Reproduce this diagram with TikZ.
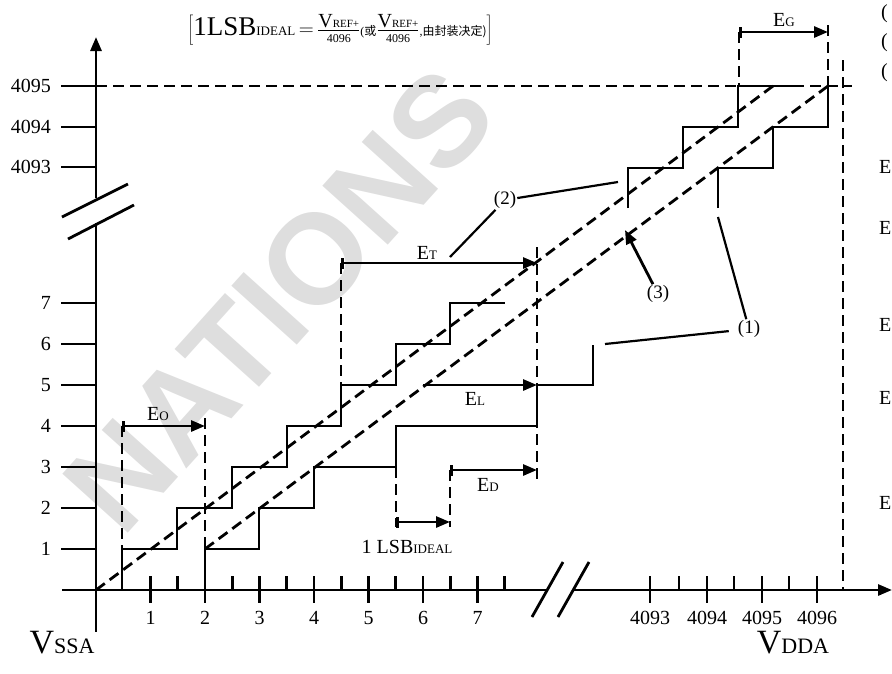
\documentclass[tikz,border=0pt]{standalone}
\usepackage{fontspec}
\setmainfont{Liberation Serif}
\newfontfamily\cjk{Noto Sans CJK SC}
\newfontfamily\wmfont{Liberation Sans}
\usetikzlibrary{arrows.meta}
\newcommand\capsub[1]{{\fontsize{13}{13}\selectfont #1}}

\begin{document}
\begin{tikzpicture}[x=1pt,y=-1pt,
  axis/.style={line width=2.8pt},
  stair/.style={line width=2.8pt},
  guide/.style={line width=2.8pt, dash pattern=on 11pt off 6pt},
  tick/.style={line width=2.6pt},
  err/.style={line width=2.8pt, -{Triangle[length=14pt,width=11pt]}},
  errbar/.style={line width=2.8pt, {Bar[width=11pt]}-{Triangle[length=14pt,width=11pt]}},
  leader/.style={line width=2.2pt},
  lbl/.style={font=\fontsize{20}{20}\selectfont, inner sep=1pt},
  wm/.style={text=black!13, font=\wmfont\bfseries\fontsize{128}{128}\selectfont}]
\useasboundingbox (0,0) rectangle (892,673);

% watermark
\node[wm, rotate=48] (wmark) at (279,300) {NATIONS};

% axes with breaks
\draw[axis, -{Triangle[length=14pt,width=11pt]}] (96,198) -- (96,37);
\draw[axis] (96,223) -- (96,632);
\draw[axis] (62,217) -- (128,184);
\draw[axis] (68,239) -- (134,205);
\draw[axis] (62,590) -- (547,590);
\draw[axis, -{Triangle[length=14pt,width=11pt]}] (572,590) -- (892,590);
\draw[axis] (532,617) -- (563,562);
\draw[axis] (558,617) -- (589,562);

% codes on the y axis
\foreach \k in {1,...,7} {
  \draw[tick] (61,{590-41*\k}) -- (96,{590-41*\k});
  \node[lbl, anchor=east] (ylab\k) at (52,{590-41*\k}) {\k};
}
\foreach \v/\y in {4093/167,4094/127,4095/86} {
  \draw[tick] (61,\y) -- (96,\y);
  \node[lbl, anchor=east] (ylab\v) at (52,\y) {\v};
}

% input on the x axis
\foreach \k in {1,...,7} {
  \draw[tick] ({96+54.5*\k},576) -- ({96+54.5*\k},603);
  \node[lbl] (xlab\k) at ({96+54.5*\k},618) {\k};
}
\foreach \k in {1.5,2.5,...,7.5}
  \draw[tick] ({96+54.5*\k},576) -- ({96+54.5*\k},590);
\foreach \v/\x in {4093/650,4094/707,4095/762,4096/817} {
  \draw[tick] (\x,576) -- (\x,603);
  \node[lbl] (xlab\v) at (\x,618) {\v};
}
\foreach \x in {679,734,789}
  \draw[tick] (\x,576) -- (\x,590);

\node (vssa) at (62,643) {\fontsize{34}{34}\selectfont V\fontsize{22}{22}\selectfont SSA};
\node (vdda) at (793,643) {\fontsize{34}{34}\selectfont V\fontsize{22}{22}\selectfont DDA};

% staircases
\draw[stair] (122,590) -- (122,549) -- (177,549) -- (177,508) -- (232,508) -- (232,467) -- (287,467) -- (287,426)
  -- (341,426) -- (341,385) -- (396,385) -- (396,344) -- (450,344) -- (450,303) -- (505,303);
\draw[stair] (628,208) -- (628,168) -- (683,168) -- (683,127) -- (738,127) -- (738,86) -- (793,86);
\draw[stair] (205,590) -- (205,549) -- (259,549) -- (259,508) -- (314,508) -- (314,467) -- (396,467) -- (396,426)
  -- (537,426) -- (537,385) -- (593,385) -- (593,345);
\draw[stair] (718,208) -- (718,168) -- (773,168) -- (773,127) -- (828,127) -- (828,86);

% dashed lines
\draw[guide] (96,590) -- (773,86);
\draw[guide] (205,549) -- (828,86);
\draw[guide] (96,86) -- (852,86);
\draw[guide] (843,60) -- (843,590);
\draw[guide] (122,426) -- (122,549);
\draw[guide] (205,418) -- (205,549);
\draw[guide] (341,263) -- (341,385);
\draw[guide] (537,247) -- (537,480);
\draw[guide] (396,467) -- (396,527);
\draw[guide] (450,470) -- (450,527);
\draw[guide] (739,32) -- (739,86);
\draw[guide] (828,25) -- (828,86);

% errors
\draw[errbar] (122,426) -- (205,426);
\draw[errbar] (341,263) -- (537,263);
\draw[err] (423,385) -- (537,385);
\draw[errbar] (450,470) -- (537,470);
\draw[errbar] (396,522) -- (450,522);
\draw[errbar] (739,32) -- (828,32);
\node[lbl] (eo) at (158,414) {E\capsub{O}};
\node[lbl] (et) at (427,253) {E\capsub{T}};
\node[lbl] (el) at (475,399) {E\capsub{L}};
\node[lbl] (ed) at (488,485) {E\capsub{D}};
\node[lbl] (eg) at (784,20) {E\capsub{G}};
\node[lbl] (lsb1) at (407,547) {1 LSB\capsub{IDEAL}};

% curve labels
\node[lbl, font=\fontsize{19}{19}\selectfont] (lab1) at (749,329) {(1)};
\node[lbl, font=\fontsize{19}{19}\selectfont] (lab2) at (505,200) {(2)};
\node[lbl, font=\fontsize{19}{19}\selectfont] (lab3) at (658,294) {(3)};
\coordinate (q1a) at (718,217);
\coordinate (q1b) at (605,344);
\coordinate (q2a) at (450,257);
\coordinate (q2b) at (618,182);
\coordinate (q3) at (625,230);
\draw[leader] (lab1) -- (q1a);
\draw[leader, shorten <=8pt] (lab1) -- (q1b);
\draw[leader] (lab2) -- (q2a);
\draw[leader] (lab2) -- (q2b);
\draw[err] (lab3) -- (q3);

% definition of 1 LSB
\node[inner sep=0pt, font=\fontsize{20}{20}\selectfont] (lsbdef) at (340,30)
  {$\left[\mbox{\fontsize{27}{27}\selectfont 1LSB\capsub{IDEAL}}\,{=}\,
   \frac{\mbox{V\fontsize{11}{11}\selectfont REF+}}{\mbox{\fontsize{12}{12}\selectfont 4096}}
   \mbox{\fontsize{12}{12}\selectfont(\cjk 或}
   \frac{\mbox{V\fontsize{11}{11}\selectfont REF+}}{\mbox{\fontsize{12}{12}\selectfont 4096}}
   \mbox{\fontsize{12}{12}\selectfont,\cjk 由封装决定)}\right]$};

% texts cut by the right edge
\foreach \y [count=\i] in {167,228,325,398,503}
  \node[lbl, anchor=west] (ecut\i) at (878,\y) {E};
\foreach \y [count=\i] in {14,43,73}
  \node[lbl, anchor=west] (pcut\i) at (880,\y) {(};
\end{tikzpicture}
\end{document}
